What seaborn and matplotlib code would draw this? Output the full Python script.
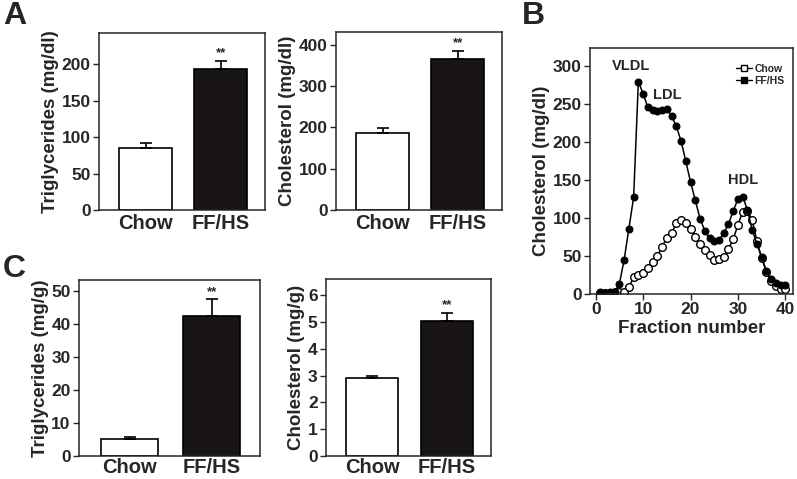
import numpy as np
import pandas as pd
import seaborn as sns
import matplotlib.pyplot as plt
from matplotlib.lines import Line2D

sns.set_style('ticks')
plt.rcParams['font.family'] = ['Liberation Sans', 'DejaVu Sans']
plt.rcParams['font.weight'] = 'bold'
plt.rcParams['axes.labelweight'] = 'bold'

groups = ['Chow', 'FF/HS']

# panel A (plasma)
plasma_tg = [84.5, 193.5]
plasma_tg_err = [8, 10.5]
plasma_chol = [186, 365]
plasma_chol_err = [13, 20]

# panel C (liver)
liver_tg = [5.3, 42.4]
liver_tg_err = [0.5, 5.1]
liver_chol = [2.91, 5.04]
liver_chol_err = [0.09, 0.29]

# panel B (FPLC profile)
fractions = list(range(1, 41))
chow_profile = [1, 1, 1, 2, 2, 3, 9, 22, 25, 28, 34, 42, 50, 62, 74, 80, 93, 97, 93, 86,
                75, 66, 58, 51, 45, 46, 48, 59, 72, 91, 108, 109, 97, 69, 47, 29, 17, 10, 6, 6]
ffhs_profile = [2, 1, 2, 3, 13.5, 45, 86, 127, 279, 263, 245, 241, 240, 242, 243, 234, 220, 201, 174, 147,
                123, 99, 83, 73, 69, 71, 80, 92, 109, 125, 128, 110, 84, 66, 48, 30, 20, 14, 12, 12]

fig = plt.figure(figsize=(7.97, 4.79), dpi=100)
W, H = 797, 479


def add_ax(x0, y0, x1, y1):
    return fig.add_axes([x0 / W, 1 - y1 / H, (x1 - x0) / W, (y1 - y0) / H])


def bar_panel(ax, vals, errs, ylim, yticks, ylabel, xpad=3):
    df = pd.DataFrame({'group': groups, 'value': vals})
    sns.barplot(data=df, x='group', y='value', hue='group', palette=['white', '#1a1414'],
                edgecolor='black', linewidth=1.2, width=0.7, legend=False, ax=ax)
    ax.errorbar([0, 1], vals, yerr=[[0, 0], errs], fmt='none', ecolor='black',
                elinewidth=1.2, capsize=4, capthick=1.2)
    ax.text(1, vals[1] + errs[1] + (ylim[1] * 0.01), '**', ha='center', va='bottom', fontsize=9.5)
    ax.set_xlim(-0.62, 1.59)
    ax.set_ylim(*ylim)
    ax.set_yticks(yticks)
    ax.set_xlabel('')
    ax.set_ylabel(ylabel, fontsize=13.5, labelpad=2)
    ax.tick_params(axis='y', labelsize=12.5, width=1, length=4, pad=2)
    ax.tick_params(axis='x', labelsize=14.5, length=0, pad=xpad)
    for s in ax.spines.values():
        s.set_linewidth(1.1)


ax1 = add_ax(99, 33, 265, 210)
bar_panel(ax1, plasma_tg, plasma_tg_err, (0, 243), [0, 50, 100, 150, 200], 'Triglycerides (mg/dl)')

ax2 = add_ax(336, 32, 502, 210)
bar_panel(ax2, plasma_chol, plasma_chol_err, (0, 431), [0, 100, 200, 300, 400], 'Cholesterol (mg/dl)')

ax3 = add_ax(79, 280, 260, 456)
bar_panel(ax3, liver_tg, liver_tg_err, (0, 53.4), [0, 10, 20, 30, 40, 50], 'Triglycerides (mg/g)', xpad=1.5)

ax4 = add_ax(326, 279, 491, 456)
bar_panel(ax4, liver_chol, liver_chol_err, (0, 6.6), [0, 1, 2, 3, 4, 5, 6], 'Cholesterol (mg/g)', xpad=1.5)

# panel B
axb = add_ax(590, 48, 793, 294)
sns.lineplot(x=fractions, y=chow_profile, color='black', marker='o', markersize=5.5,
             markerfacecolor='white', markeredgecolor='black', markeredgewidth=1, linewidth=1.1, ax=axb)
sns.lineplot(x=fractions, y=ffhs_profile, color='black', marker='o', markersize=5,
             markerfacecolor='black', markeredgecolor='black', linewidth=1.1, ax=axb)
axb.set_xlim(-1.2, 41.6)
axb.set_ylim(0, 323)
axb.set_xticks([0, 10, 20, 30, 40])
axb.set_yticks([0, 50, 100, 150, 200, 250, 300])
axb.set_xlabel('Fraction number', fontsize=13.5, labelpad=2)
axb.set_ylabel('Cholesterol (mg/dl)', fontsize=13.5, labelpad=2)
axb.tick_params(axis='both', labelsize=12.5, width=1, length=4, pad=2)
for s in axb.spines.values():
    s.set_linewidth(1.1)
axb.text(7.5, 290, 'VLDL', ha='center', va='bottom', fontsize=10.5)
axb.text(15, 252, 'LDL', ha='center', va='bottom', fontsize=10.5)
axb.text(31, 140, 'HDL', ha='center', va='bottom', fontsize=10.5)
handles = [Line2D([], [], color='black', marker='s', markersize=4, markerfacecolor='white', lw=1),
           Line2D([], [], color='black', marker='s', markersize=4, markerfacecolor='black', lw=1)]
axb.legend(handles, groups, loc='upper right', frameon=False, fontsize=7.5, handlelength=1.6,
           handletextpad=0.2, labelspacing=0.2, borderaxespad=0.4, bbox_to_anchor=(1.0, 0.97))

fig.text(3 / W, 1 - 1 / H, 'A', fontsize=23, va='top', ha='left')
fig.text(522 / W, 1 - 1 / H, 'B', fontsize=23, va='top', ha='left')
fig.text(3 / W, 1 - 254 / H, 'C', fontsize=23, va='top', ha='left')

plt.savefig('out.png', dpi=100)
